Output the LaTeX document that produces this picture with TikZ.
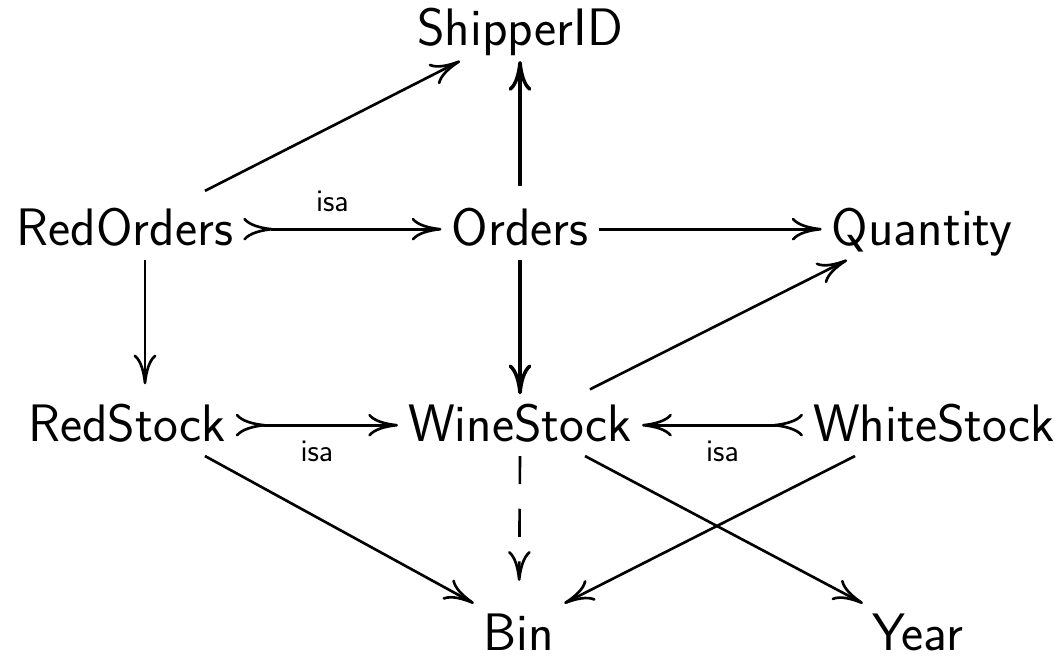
\documentclass[tikz,border=0pt]{standalone}
\usepackage{tikz}
\usetikzlibrary{arrows.meta}
\tikzset{
	obj/.style={font=\sffamily\fontsize{30}{34}\selectfont,anchor=base,inner xsep=5pt,inner ysep=5pt,text height=20.8pt,text depth=2.8pt},
	lbl/.style={font=\sffamily\fontsize{18}{20}\selectfont,inner sep=3pt},
	>={Computer Modern Rightarrow[length=17pt,width=13pt]}
}

\begin{document}
\begin{tikzpicture}[line width=1.5pt]
\useasboundingbox (0,0) rectangle (21.28,13.18);
\node (SID) [obj] at (10.4,12.26) {ShipperID};
\node (RO) [obj] at (2.5,8.28) {RedOrders};
\node (Ord) [obj] at (10.4,8.28) {Orders};
\node (Qty) [obj] at (18.44,8.28) {Quantity};
\node (RS) [obj] at (2.54,4.36) {RedStock};
\node (WS) [obj] at (10.4,4.36) {WineStock};
\node (WhS) [obj] at (18.68,4.36) {WhiteStock};
\node (Bin) [obj,text depth=0pt] at (10.38,0.18) {Bin};
\node (Year) [obj] at (18.36,0.18) {Year};
% top row
\draw [->] ([xshift=1.6cm,yshift=0.15cm]RO.north) -- ([xshift=-1.2cm]SID.south);
\draw [->,line width=2pt,shorten <=0.25cm] (Ord.north) -- (SID.south);
\draw [>->] (RO.east) -- node [lbl,above=6pt,xshift=-0.2cm] {isa} (Ord.west);
\draw [->] (Ord.east) -- (Qty.west);
% middle
\draw [->,shorten >=0.2cm] ([xshift=0.4cm]RO.south) -- ([xshift=0.36cm]RS.north);
\draw [->,line width=2pt] (Ord.south) -- (WS.north);
\draw [->] ([xshift=1.4cm,yshift=0.1cm]WS.north) -- ([xshift=-1.5cm]Qty.south);
\draw [>->] (RS.east) -- node [lbl,below=5pt] {isa} (WS.west);
\draw [>->] (WhS.west) -- node [lbl,below=5pt] {isa} (WS.east);
% bottom
\draw [->,dash pattern=on 16pt off 14pt,shorten >=0.45cm] (WS.south) -- (Bin.north);
\draw [->] ([xshift=1.56cm]RS.south) -- (Bin.north west);
\draw [->] ([xshift=-1.58cm]WhS.south) -- (Bin.north east);
\draw [->] ([xshift=1.3cm]WS.south) -- (Year.north west);
\end{tikzpicture}
\end{document}
